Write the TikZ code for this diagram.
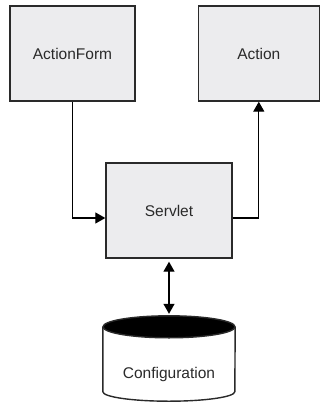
\documentclass[tikz,border=0pt]{standalone}
\usepackage{fontspec}
\setmainfont{Liberation Sans}
\usetikzlibrary{arrows.meta,calc}
\definecolor{boxfill}{HTML}{ECECEE}
\definecolor{ink}{HTML}{2A2A2A}
\tikzset{
  comp/.style={draw=ink, line width=1.4pt, fill=boxfill, minimum width=125pt, minimum height=95pt, inner sep=0pt, text=ink, font=\fontsize{15.5}{18}\selectfont},
  conn/.style={draw=black, line width=1.3pt, -{Triangle[length=10pt,width=11pt]}},
  dconn/.style={draw=black, line width=1.3pt, {Triangle[length=10pt,width=11pt]}-{Triangle[length=10pt,width=11pt]}}
}
\begin{document}
\begin{tikzpicture}[x=1pt,y=-1pt]
\useasboundingbox (0,0) rectangle (320,403);
\node[comp] (af) at (72.5,53.5) {ActionForm};
\node[comp, minimum width=121pt] (ac) at (258.8,53.5) {Action};
\node[comp, minimum width=126pt] (sv) at (169,210.5) {Servlet};
% configuration store
\node[minimum width=132pt, minimum height=85pt, inner sep=0pt] (cf) at (169,358.5) {};
\draw[ink, line width=1.4pt, fill=white]
  ($(cf.north west)+(0,11)$) -- ($(cf.south west)+(0,-9.5)$)
  arc[start angle=180, end angle=360, x radius=66pt, y radius=9.5pt]
  -- ($(cf.north east)+(0,11)$);
\draw[ink, line width=1.4pt, fill=black] ($(cf.north)+(0,11)$) ellipse[x radius=66pt, y radius=11pt];
\node[text=ink, font=\fontsize{15.5}{18}\selectfont] (cft) at (169,374) {Configuration};
% connectors
\draw[conn] (af.south) |- ($(sv.west)+(0,7.5)$);
\draw[conn] ($(sv.east)+(0,7.5)$) -| (ac.south);
\draw[dconn, shorten <=3pt, shorten >=2pt] (sv.south) -- (cf.north);
\end{tikzpicture}
\end{document}
